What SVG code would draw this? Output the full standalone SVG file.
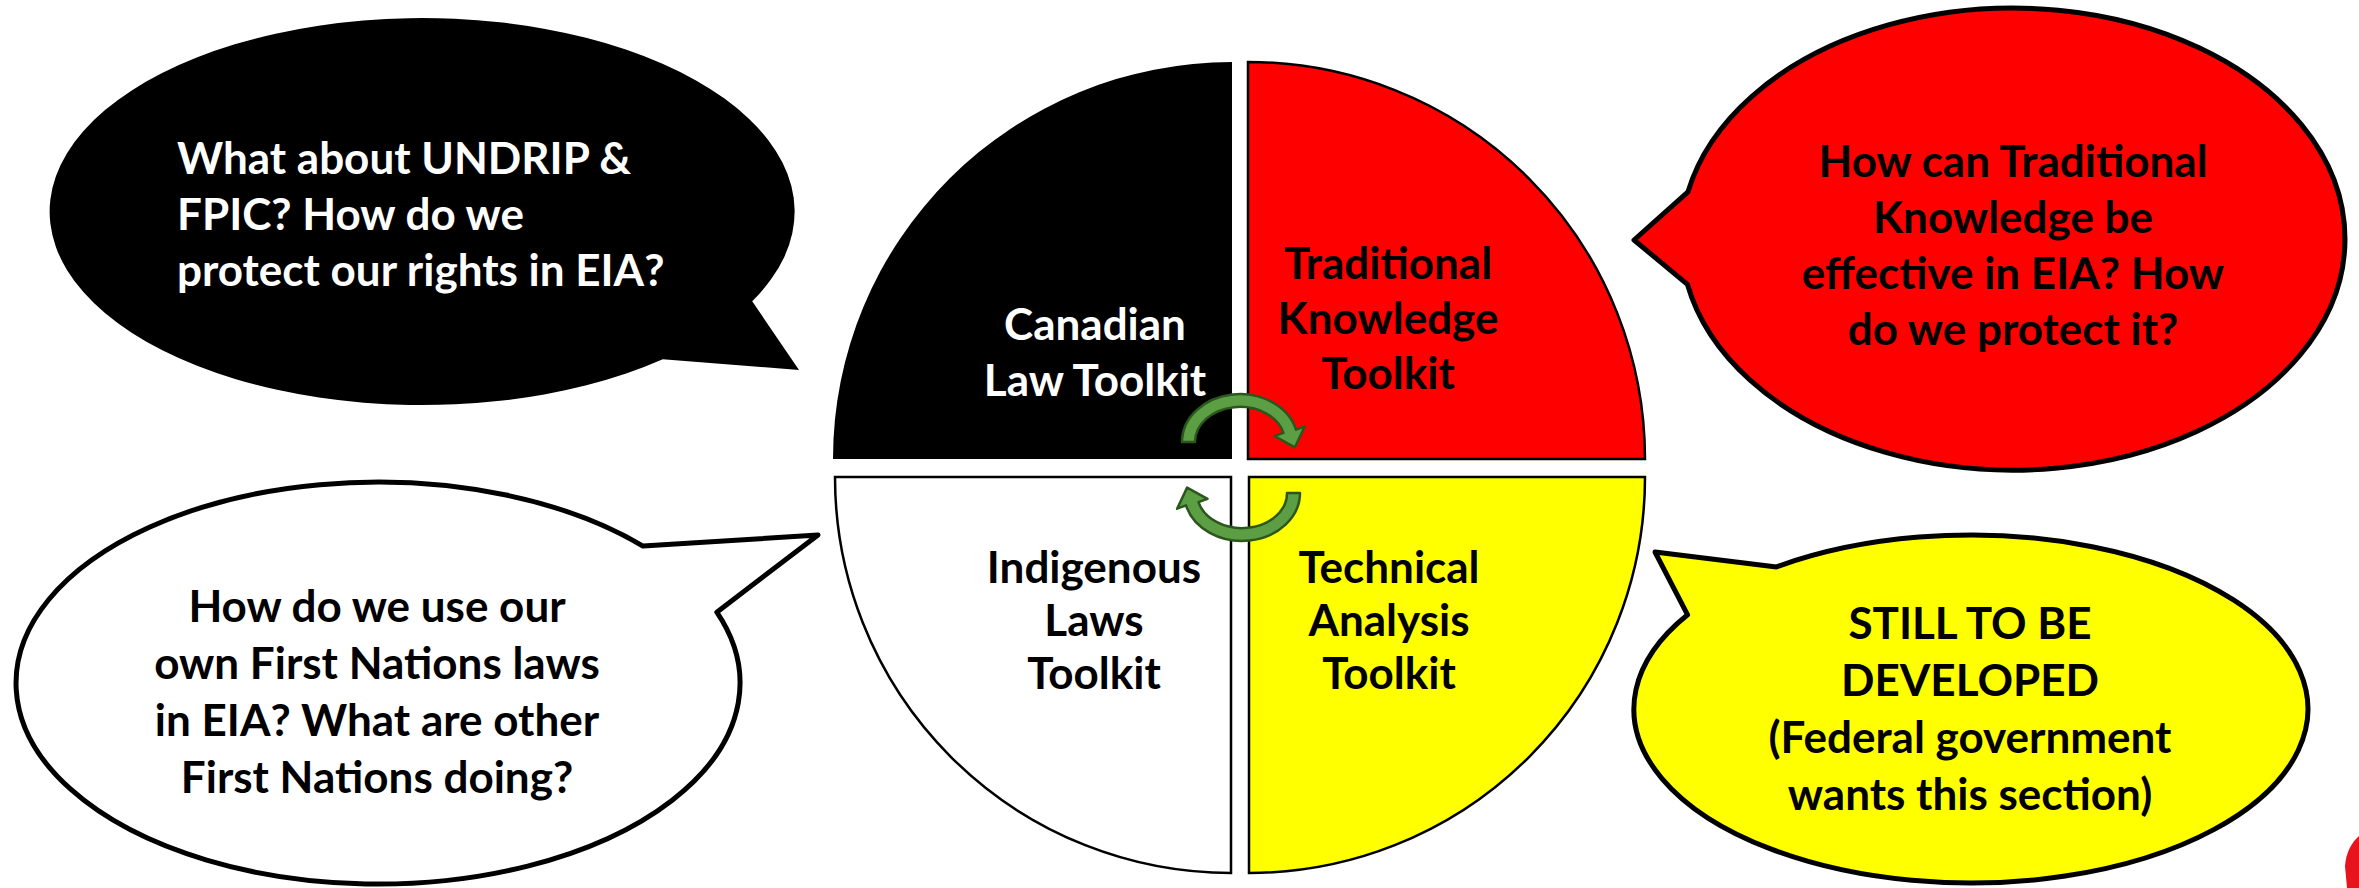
<svg xmlns="http://www.w3.org/2000/svg" width="2359" height="888" viewBox="0 0 2359 888">
<style>
text{font-family:Lato,"Open Sans","Liberation Sans",sans-serif;font-weight:bold;font-size:44px}
.w{fill:#ffffff}
.k{fill:#000000}
.c{text-anchor:middle}
.out{stroke:#000;stroke-width:5;stroke-linejoin:round}
.q{stroke:#000;stroke-width:2.5}
.arrow{fill:#5c9e43;stroke:#2b561c;stroke-width:2.5;stroke-linejoin:round}
</style>
<rect width="2359" height="888" fill="#ffffff"/>
<g id="bubble-canadian">
<path d="M752.2,301.3 L799,370 L662.8,359.3 A372.5,193.5 0 1 1 752.2,301.3 Z" fill="#000"/>
<text class="w" x="177" y="174">What about UNDRIP &amp;</text>
<text class="w" x="177" y="230">FPIC? How do we</text>
<text class="w" x="177" y="286">protect our rights in EIA?</text>
</g>
<g id="bubble-traditional">
<path class="out" d="M1687.4,284.3 L1634,240 L1688,191.8 A332,231 0 1 1 1687.4,284.3 Z" fill="#ff0000"/>
<text class="k c" x="2013" y="177">How can Traditional</text>
<text class="k c" x="2013" y="233">Knowledge be</text>
<text class="k c" x="2013" y="289">effective in EIA? How</text>
<text class="k c" x="2013" y="345">do we protect it?</text>
</g>
<g id="bubble-indigenous">
<path class="out" d="M643,546.1 L818,535 L716.8,612.2 A362,201 0 1 1 643,546.1 Z" fill="#fff"/>
<text class="k c" x="377" y="622">How do we use our</text>
<text class="k c" x="377" y="679">own First Nations laws</text>
<text class="k c" x="377" y="736">in EIA? What are other</text>
<text class="k c" x="377" y="793">First Nations doing?</text>
</g>
<g id="bubble-technical">
<path class="out" d="M1776.5,566.9 L1655,552 L1687.6,614.8 A337,174 0 1 0 1776.5,566.9 Z" fill="#ffff00"/>
<text class="k c" x="1970" y="639">STILL TO BE</text>
<text class="k c" x="1970" y="696">DEVELOPED</text>
<text class="k c" x="1970" y="753">(Federal government</text>
<text class="k c" x="1970" y="810">wants this section)</text>
</g>
<g id="quadrant-canadian-law">
<path d="M1232,459 L833,459 A399,397 0 0 1 1232,62 Z" fill="#000"/>
<text class="w c" x="1095" y="340">Canadian</text>
<text class="w c" x="1095" y="396">Law Toolkit</text>
</g>
<g id="quadrant-traditional-knowledge">
<path class="q" d="M1248,459 L1248,62 A397,397 0 0 1 1645,459 Z" fill="#ff0000"/>
<text class="k c" x="1388" y="279">Traditional</text>
<text class="k c" x="1388" y="334">Knowledge</text>
<text class="k c" x="1388" y="389">Toolkit</text>
</g>
<g id="quadrant-indigenous-laws">
<path class="q" d="M1231,477 L1231,873 A396,396 0 0 1 835,477 Z" fill="#fff"/>
<text class="k c" x="1094" y="583">Indigenous</text>
<text class="k c" x="1094" y="636">Laws</text>
<text class="k c" x="1094" y="689">Toolkit</text>
</g>
<g id="quadrant-technical-analysis">
<path class="q" d="M1249,477 L1645,477 A396,396 0 0 1 1249,873 Z" fill="#ffff00"/>
<text class="k c" x="1389" y="583">Technical</text>
<text class="k c" x="1389" y="636">Analysis</text>
<text class="k c" x="1389" y="689">Toolkit</text>
</g>
<g id="connectors">
<path class="arrow" d="M1182,442 A58,48 0 0 1 1296,429.6 L1304.9,426.3 L1294.9,447.4 L1274.5,436.1 L1283.5,432.9 A45,35 0 0 0 1195,442 Z"/>
<path class="arrow" d="M1300,493 A58,48 0 0 1 1186,505.4 L1177.1,508.7 L1187.1,487.6 L1207.5,498.9 L1198.5,502.1 A45,35 0 0 0 1287,493 Z"/>
</g>
<path d="M2359,836 C2352,842 2346,852 2345,866 L2347,888 L2359,888 Z" fill="#e8141b"/>
</svg>
